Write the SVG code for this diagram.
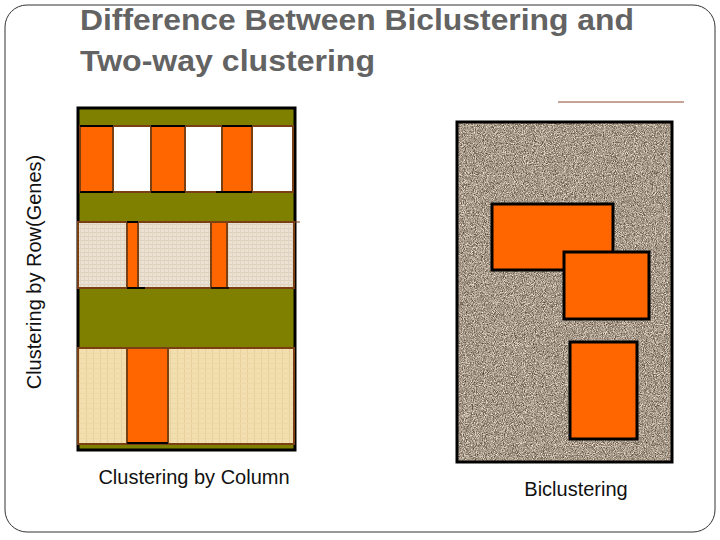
<svg xmlns="http://www.w3.org/2000/svg" width="720" height="540" viewBox="0 0 720 540">
<defs>
<style>
.title{font-family:"Liberation Sans",Arial,sans-serif;font-size:30px;font-weight:bold;fill:#636363;}
.lbl{font-family:"Liberation Sans",Arial,sans-serif;font-size:20px;fill:#111;}
.or{fill:#ff6600;stroke:#7b3f14;stroke-width:2;}
.wh{fill:#ffffff;stroke:#7b3f14;stroke-width:2;}
.ln{fill:url(#linen);stroke:#7b3f14;stroke-width:2;}
.pp{fill:url(#papyrus);stroke:#7b3f14;stroke-width:2;}
.bor{fill:#ff6600;stroke:#000;stroke-width:3;}
</style>
<pattern id="linen" width="4" height="4" patternUnits="userSpaceOnUse">
<rect width="4" height="4" fill="#ebe2d3"/>
<rect x="0" y="0" width="4" height="1" fill="#ddd1bc"/>
<rect x="0" y="0" width="1" height="4" fill="#e1d6c3"/>
</pattern>
<pattern id="papyrus" width="7" height="5" patternUnits="userSpaceOnUse">
<rect width="7" height="5" fill="#f3deb0"/>
<rect x="2" y="0" width="1" height="5" fill="#e8d09c"/>
<rect x="0" y="3" width="7" height="1" fill="#eed8a8"/>
</pattern>
<filter id="granite" x="0" y="0" width="100%" height="100%" color-interpolation-filters="sRGB">
<feTurbulence type="fractalNoise" baseFrequency="1.1" numOctaves="2" seed="3" result="n"/>
<feColorMatrix in="n" type="matrix" values="1.0 0 0 0 0.15  1.0 0 0 0 0.10  1.0 0 0 0 0.04  0 0 0 0 1"/>
</filter>
</defs>

<rect id="frame" x="5" y="5" width="710" height="527" rx="22" ry="22" fill="#ffffff" stroke="#333" stroke-width="1"/>

<g id="title">
<text class="title" x="80" y="30" textLength="554" lengthAdjust="spacingAndGlyphs">Difference Between Biclustering and</text>
<text class="title" x="80" y="71" textLength="295" lengthAdjust="spacingAndGlyphs">Two-way clustering</text>
</g>

<g id="two-way">
<rect x="78" y="108" width="217" height="342" fill="#808000" stroke="#000" stroke-width="3"/>
<g id="row1">
<rect class="or" x="80" y="126" width="33" height="66"/>
<rect class="wh" x="113" y="126" width="38" height="66"/>
<rect class="or" x="151" y="126" width="34" height="66"/>
<rect class="wh" x="185" y="126" width="37" height="66"/>
<rect class="or" x="222" y="126" width="30" height="66"/>
<rect class="wh" x="252" y="126" width="41" height="66"/>
<line x1="80" y1="126" x2="113" y2="126" stroke="#000" stroke-width="2"/>
<line x1="80" y1="192" x2="113" y2="192" stroke="#000" stroke-width="2"/>
<line x1="151" y1="126" x2="185" y2="126" stroke="#000" stroke-width="2"/>
<line x1="151" y1="192" x2="185" y2="192" stroke="#000" stroke-width="2"/>
<line x1="222" y1="126" x2="252" y2="126" stroke="#000" stroke-width="2"/>
<line x1="216" y1="192" x2="252" y2="192" stroke="#000" stroke-width="2"/>
</g>
<g id="row2">
<rect class="ln" x="78" y="222" width="216" height="66"/>
<rect class="or" x="127" y="222" width="11" height="66"/>
<rect class="or" x="211" y="222" width="16" height="66"/>
<line x1="127" y1="222" x2="138" y2="222" stroke="#000" stroke-width="2"/>
<line x1="127" y1="288" x2="145" y2="288" stroke="#000" stroke-width="2"/>
<line x1="211" y1="288" x2="229" y2="288" stroke="#000" stroke-width="1.5"/>
<line x1="294" y1="222" x2="300" y2="222" stroke="#7b3f14" stroke-width="1"/>
</g>
<g id="row3">
<rect class="pp" x="78" y="348" width="216" height="96"/>
<rect class="or" x="127" y="348" width="41" height="96"/>
<line x1="127" y1="443" x2="168" y2="443" stroke="#000" stroke-width="2"/>
</g>
</g>

<g id="bicluster">
<line x1="558" y1="102" x2="684" y2="102" stroke="#8b4a2b" stroke-width="1"/>
<rect x="457" y="122" width="215" height="340" fill="#a89a8c" filter="url(#granite)"/>
<rect x="457" y="122" width="215" height="340" fill="none" stroke="#000" stroke-width="3"/>
<rect class="bor" x="492" y="204" width="121" height="66"/>
<rect class="bor" x="564" y="252" width="85" height="67"/>
<rect class="bor" x="570" y="342" width="67" height="97"/>
</g>

<g id="labels">
<text class="lbl" x="194" y="484" text-anchor="middle">Clustering by Column</text>
<text class="lbl" x="576" y="496" text-anchor="middle">Biclustering</text>
<text class="lbl" x="0" y="0" text-anchor="middle" transform="translate(41,272) rotate(-90)">Clustering by Row(Genes)</text>
</g>
</svg>
